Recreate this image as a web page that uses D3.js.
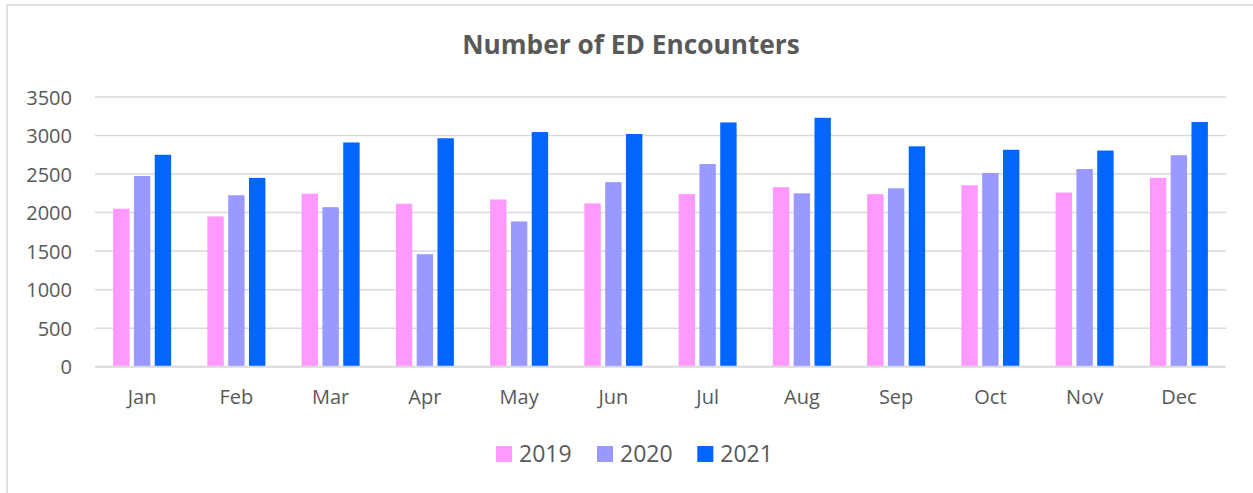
<!DOCTYPE html>
<html>
<head>
<meta charset="utf-8">
<script src="https://cdn.jsdelivr.net/npm/d3@7"></script>
<style>
  html, body { margin: 0; padding: 0; background: #fff; }
  svg { display: block; }
  text { font-family: "Open Sans", sans-serif; fill: #595959; }
</style>
</head>
<body>
<svg id="chart" width="1253" height="493"></svg>
<script>
const months = ["Jan","Feb","Mar","Apr","May","Jun","Jul","Aug","Sep","Oct","Nov","Dec"];
const seriesNames = ["2019","2020","2021"];
const values2019 = [2050, 1950, 2245, 2115, 2170, 2120, 2240, 2330, 2240, 2355, 2260, 2450];
const values2020 = [2475, 2225, 2070, 1460, 1885, 2395, 2630, 2250, 2315, 2515, 2565, 2745];
const values2021 = [2750, 2450, 2910, 2965, 3045, 3020, 3170, 3230, 2860, 2815, 2805, 3175];
const yTicks = [0, 500, 1000, 1500, 2000, 2500, 3000, 3500];
const colors = ["#FF99FF", "#9999FF", "#0066FF"];
const titleText = "Number of ED Encounters";

const allSeries = [values2019, values2020, values2021];
const svg = d3.select("#chart");

// chart frame (top & left edges visible)
svg.append("line").attr("x1", 7).attr("y1", 5).attr("x2", 1253).attr("y2", 5)
  .attr("stroke", "#d9d9d9").attr("stroke-width", 1.5);
svg.append("line").attr("x1", 7).attr("y1", 5).attr("x2", 7).attr("y2", 493)
  .attr("stroke", "#d9d9d9").attr("stroke-width", 1.5);

const x0 = d3.scaleBand().domain(months).range([95, 1226]).paddingInner(0).paddingOuter(0);
const groupW = 58;
const x1 = d3.scaleBand().domain(seriesNames).range([0, groupW]).paddingInner(0.212).paddingOuter(0);
const y = d3.scaleLinear().domain([0, 3500]).range([366.7, 97]);

// gridlines
svg.append("g").selectAll("line").data(yTicks.filter(t => t > 0)).join("line")
  .attr("x1", 95).attr("x2", 1226)
  .attr("y1", d => y(d)).attr("y2", d => y(d))
  .attr("stroke", "#d9d9d9").attr("stroke-width", 1.5);

// y axis labels
const yAxis = d3.axisLeft(y).tickValues(yTicks).tickSize(0).tickPadding(0).tickFormat(d3.format("d"));
const yg = svg.append("g").attr("transform", "translate(72,0)").call(yAxis);
yg.select(".domain").remove();
yg.selectAll("text").attr("font-size", 20).attr("fill", "#595959")
  .attr("font-family", "Open Sans, sans-serif").attr("dy", "0.35em");

// bars
const groups = svg.append("g").selectAll("g").data(months).join("g")
  .attr("transform", d => `translate(${x0(d) + x0.bandwidth() / 2 - groupW / 2},0)`);
groups.selectAll("rect").data((m, i) => seriesNames.map((s, k) => ({ s, k, v: allSeries[k][i] })))
  .join("rect")
  .attr("x", d => x1(d.s))
  .attr("width", x1.bandwidth())
  .attr("y", d => y(d.v))
  .attr("height", d => y(0) - y(d.v))
  .attr("fill", d => colors[d.k]);

// baseline axis
svg.append("line").attr("x1", 95).attr("x2", 1226).attr("y1", y(0)).attr("y2", y(0))
  .attr("stroke", "#d9d9d9").attr("stroke-width", 2);

// x axis labels
const xAxis = d3.axisBottom(x0).tickSize(0).tickPadding(0);
const xg = svg.append("g").attr("transform", "translate(0,397)").call(xAxis);
xg.select(".domain").remove();
xg.selectAll("text").attr("font-size", 20).attr("fill", "#595959")
  .attr("font-family", "Open Sans, sans-serif").attr("dy", "0.35em");

// title
const t = svg.append("text").attr("x", 631).attr("y", 54).attr("text-anchor", "middle")
  .attr("font-weight", "bold").attr("font-size", 26).text(titleText);
const tw = t.node().getComputedTextLength();
if (tw > 0) t.attr("font-size", 26 * 338 / tw);

// legend
const legendX = [496, 597, 697.3];
const lg = svg.append("g").selectAll("g").data(seriesNames).join("g")
  .attr("transform", (d, i) => `translate(${legendX[i]},446)`);
lg.append("rect").attr("width", 16).attr("height", 16).attr("fill", (d, i) => colors[i]);
lg.append("text").attr("x", 23).attr("y", 8).attr("dy", "0.36em")
  .attr("font-size", 23).text(d => d);
</script>
</body>
</html>
